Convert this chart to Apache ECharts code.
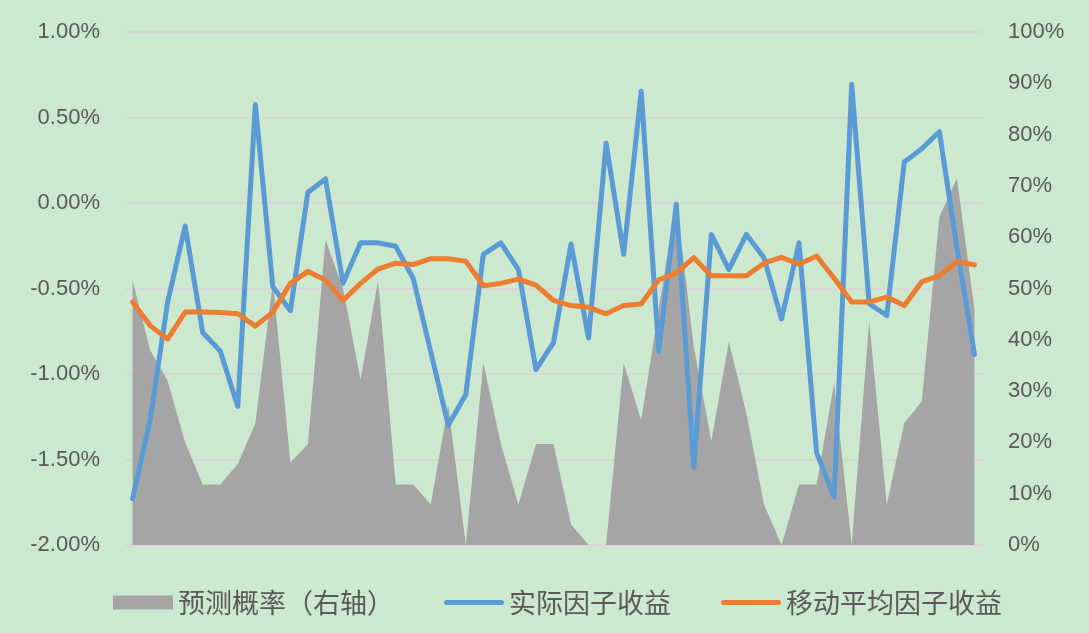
<!DOCTYPE html>
<html>
<head>
<meta charset="utf-8">
<script src="https://cdn.jsdelivr.net/npm/echarts@6/dist/echarts.min.js"></script>
<style>
  html, body { margin: 0; padding: 0; background: #cce8cf; }
  #chart { width: 1089px; height: 633px; }
</style>
</head>
<body>
<div id="chart"></div>
<script>
// 预测概率（右轴），单位 %
const probData = [51.6, 38, 32, 20, 11.8, 11.8, 15.8, 23.7, 51.3, 16.1,
  19.7, 59.5, 50, 32.2, 51.6, 11.8, 11.8, 7.9, 27.3, 0,
  35.5, 19.7, 7.9, 19.7, 19.7, 4, 0, 0, 35.5, 24.3,
  46, 67.4, 38.6, 20.3, 39.6, 25.7, 7.9, 0, 11.8, 11.8,
  31.6, 0, 43.6, 7.9, 23.8, 28, 64, 71.5, 46];
// 实际因子收益，单位 %
const actualData = [-1.73, -1.27, -0.58, -0.135, -0.757, -0.865, -1.19, 0.576, -0.49, -0.63,
  0.063, 0.141, -0.47, -0.233, -0.233, -0.253, -0.44, -0.87, -1.30, -1.12,
  -0.30, -0.233, -0.39, -0.974, -0.816, -0.24, -0.79, 0.349, -0.30, 0.654,
  -0.865, -0.007, -1.546, -0.184, -0.39, -0.184, -0.32, -0.678, -0.233, -1.46,
  -1.72, 0.694, -0.589, -0.658, 0.24, 0.318, 0.417, -0.26, -0.885];
// 移动平均因子收益，单位 %
const movingData = [-0.579, -0.717, -0.796, -0.638, -0.638, -0.64, -0.648, -0.72, -0.638, -0.47,
  -0.40, -0.45, -0.57, -0.47, -0.386, -0.352, -0.36, -0.326, -0.326, -0.34,
  -0.484, -0.47, -0.445, -0.48, -0.57, -0.60, -0.61, -0.648, -0.60, -0.59,
  -0.45, -0.41, -0.32, -0.425, -0.425, -0.425, -0.352, -0.318, -0.358, -0.31,
  -0.44, -0.579, -0.579, -0.55, -0.60, -0.46, -0.425, -0.342, -0.362];

const seriesNames = ['预测概率（右轴）', '实际因子收益', '移动平均因子收益'];

const withIndex = arr => arr.map((v, i) => [i, v]);
const textColor = '#595959';
const fontFamily = '"Liberation Sans", "Noto Sans CJK SC", sans-serif';
// 图例中的线条图标（细长圆角条）
const lineIcon = 'path://M2.5,0 L57.5,0 A2.5,2.5 0 0 1 57.5,5 L2.5,5 A2.5,2.5 0 0 1 2.5,0 Z';

const chart = echarts.init(document.getElementById('chart'));
chart.setOption({
  backgroundColor: '#cce8cf',
  animation: false,
  grid: { left: 125, right: 107, top: 32, bottom: 88 },
  legend: {
    bottom: 12,
    left: 108,
    itemGap: 50,
    itemWidth: 60,
    itemHeight: 14,
    textStyle: { color: textColor, fontSize: 27, fontFamily: '"Noto Sans CJK SC", sans-serif' },
    data: [
      { name: seriesNames[0], icon: 'rect' },
      { name: seriesNames[1], icon: lineIcon },
      { name: seriesNames[2], icon: lineIcon }
    ]
  },
  xAxis: {
    type: 'value',
    min: -0.43,
    max: probData.length - 1 + 0.43,
    show: false
  },
  yAxis: [
    {
      type: 'value',
      min: -2,
      max: 1,
      interval: 0.5,
      axisLine: { show: false },
      axisTick: { show: false },
      axisLabel: {
        color: textColor,
        fontSize: 22,
        fontFamily: fontFamily,
        margin: 25,
        formatter: v => v.toFixed(2) + '%'
      },
      splitLine: { lineStyle: { color: '#d9d6d6', width: 2 } }
    },
    {
      type: 'value',
      min: 0,
      max: 100,
      interval: 10,
      axisLine: { show: false },
      axisTick: { show: false },
      splitLine: { show: false },
      axisLabel: {
        color: textColor,
        fontSize: 22,
        fontFamily: fontFamily,
        margin: 26,
        formatter: '{value}%'
      }
    }
  ],
  series: [
    {
      name: seriesNames[0],
      type: 'line',
      yAxisIndex: 1,
      data: withIndex(probData),
      symbol: 'none',
      color: '#a5a5a5',
      lineStyle: { width: 0 },
      areaStyle: { color: '#a5a5a5', opacity: 1 }
    },
    {
      name: seriesNames[1],
      type: 'line',
      yAxisIndex: 0,
      data: withIndex(actualData),
      symbol: 'none',
      color: '#5b9bd5',
      lineStyle: { width: 5, color: '#5b9bd5', cap: 'round', join: 'round' }
    },
    {
      name: seriesNames[2],
      type: 'line',
      yAxisIndex: 0,
      data: withIndex(movingData),
      symbol: 'none',
      color: '#ed7d31',
      lineStyle: { width: 5, color: '#ed7d31', cap: 'round', join: 'round' }
    }
  ]
});
</script>
</body>
</html>
